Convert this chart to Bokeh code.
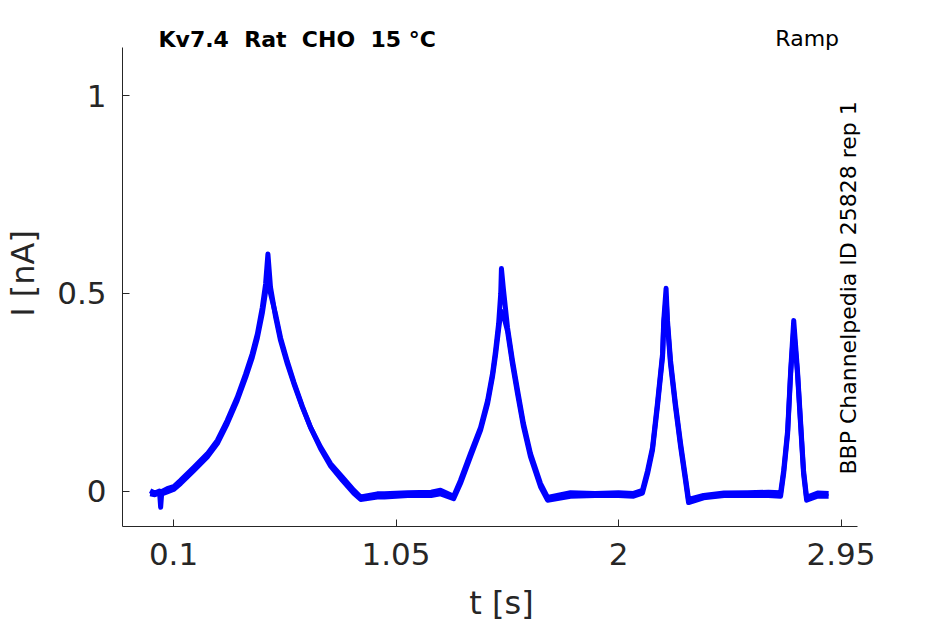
from bokeh.plotting import figure
from bokeh.models import Range1d, FixedTicker, Label
from bokeh.embed import file_html
from bokeh.resources import INLINE
import math

# ---- data ----
t_sweep = [0.000, 0.020, 0.040, 0.045, 0.050, 0.073, 0.100, 0.130, 0.187, 0.244,
           0.287, 0.329, 0.372, 0.408, 0.436, 0.458, 0.479, 0.493, 0.503, 0.514,
           0.536, 0.557, 0.586, 0.614, 0.650, 0.685, 0.728, 0.771, 0.821, 0.870,
           0.899, 0.970, 1.000,
           1.100, 1.200, 1.240, 1.296, 1.325, 1.368, 1.411, 1.441, 1.462, 1.475,
           1.488, 1.497, 1.500, 1.509, 1.526, 1.547, 1.569, 1.594, 1.624, 1.667,
           1.697, 1.795, 1.900, 2.000, 2.064, 2.102, 2.124, 2.145, 2.166, 2.188,
           2.193, 2.203, 2.209, 2.222, 2.243, 2.265, 2.286, 2.299, 2.363, 2.450,
           2.550, 2.640, 2.692, 2.705, 2.722, 2.735, 2.748, 2.764, 2.777, 2.790,
           2.803, 2.850, 2.897]
i_sweep1 = [0.002, -0.004, 0.001, -0.040, 0.000, 0.007, 0.012, 0.028, 0.061, 0.095,
            0.129, 0.179, 0.238, 0.297, 0.348, 0.398, 0.465, 0.524, 0.600, 0.516,
            0.440, 0.381, 0.322, 0.272, 0.213, 0.162, 0.112, 0.070, 0.036, 0.003,
            -0.014, -0.006, -0.006,
            -0.003, -0.002, 0.003, -0.012, 0.028, 0.096, 0.162, 0.230, 0.298, 0.356,
            0.424, 0.500, 0.563, 0.508, 0.414, 0.331, 0.255, 0.172, 0.096, 0.020,
            -0.015, -0.003, -0.005, -0.003, -0.005, 0.003, 0.053, 0.111, 0.222, 0.348,
            0.432, 0.513, 0.432, 0.331, 0.222, 0.121, 0.035, -0.020, -0.010, -0.004,
            -0.003, -0.002, -0.003, 0.053, 0.154, 0.306, 0.432, 0.306, 0.179, 0.053,
            -0.015, -0.004, -0.005]
i_sweep2 = [-0.006, -0.008, -0.004, -0.010, -0.006, -0.001, 0.005, 0.020, 0.053, 0.087,
            0.121, 0.171, 0.230, 0.288, 0.338, 0.388, 0.450, 0.505, 0.532, 0.500,
            0.447, 0.388, 0.328, 0.276, 0.215, 0.162, 0.108, 0.064, 0.028, -0.005,
            -0.020, -0.014, -0.014,
            -0.010, -0.010, -0.006, -0.018, 0.020, 0.088, 0.155, 0.222, 0.290, 0.345,
            0.410, 0.450, 0.455, 0.445, 0.405, 0.322, 0.246, 0.164, 0.088, 0.012,
            -0.022, -0.012, -0.010, -0.010, -0.012, -0.004, 0.045, 0.104, 0.214, 0.340,
            0.420, 0.490, 0.420, 0.322, 0.214, 0.113, 0.027, -0.028, -0.016, -0.010,
            -0.010, -0.010, -0.012, 0.045, 0.146, 0.298, 0.410, 0.298, 0.171, 0.045,
            -0.022, -0.012, -0.012]

x_ticks = [0.1, 1.05, 2.0, 2.95]
x_tick_labels = ["0.1", "1.05", "2", "2.95"]
y_ticks = [0.0, 0.5, 1.0]
y_tick_labels = ["0", "0.5", "1"]

NBSP2 = " \u00a0"  # double space that the SVG text keeps
title_text = NBSP2.join(["Kv7.4", "Rat", "CHO", "15 °C"])
protocol_text = "Ramp"
source_text = "BBP Channelpedia ID 25828 rep 1"

FONT = "DejaVu Sans"
AX = "#262626"

X_AXIS = (-0.1179, 3.0184)
Y_AXIS = (-0.0884, 1.1212)

p = figure(width=945, height=624, output_backend="svg", toolbar_location=None,
           x_range=Range1d(X_AXIS[0], 3.1185), y_range=Range1d(Y_AXIS[0], 1.1894),
           min_border_left=122, min_border_right=65, min_border_top=20,
           min_border_bottom=98)
p.outline_line_color = None
p.grid.visible = False
p.background_fill_color = "white"
p.border_fill_color = "white"

for ys in (i_sweep2, i_sweep1):
    p.line(t_sweep, ys, line_color="#0000FF", line_width=5, line_join="round")

for ax in (p.xaxis[0], p.yaxis[0]):
    ax.axis_line_color = AX
    ax.axis_line_width = 1
    ax.major_tick_line_color = AX
    ax.major_tick_in = 7
    ax.major_tick_out = 0
    ax.minor_tick_line_color = None
    ax.major_label_text_font = FONT
    ax.major_label_text_font_size = "31px"
    ax.major_label_text_color = AX
    ax.axis_label_text_font = FONT
    ax.axis_label_text_font_size = "32px"
    ax.axis_label_text_color = AX
    ax.axis_label_text_font_style = "normal"

p.xaxis.bounds = X_AXIS
p.yaxis.bounds = Y_AXIS
p.xaxis.ticker = FixedTicker(ticks=x_ticks)
p.xaxis.major_label_overrides = {v: s for v, s in zip(x_ticks, x_tick_labels)}
p.yaxis.ticker = FixedTicker(ticks=y_ticks)
p.yaxis.major_label_overrides = {v: s for v, s in zip(y_ticks, y_tick_labels)}
p.xaxis.axis_label = "t [s]"
p.yaxis.axis_label = "I [nA]"
p.xaxis.major_label_standoff = 16
p.xaxis.axis_label_standoff = 16
p.yaxis.major_label_standoff = 16
p.yaxis.axis_label_standoff = 12

p.add_layout(Label(x=0.0359, y=1.1414, text=title_text, text_font=FONT,
                   text_font_size="22px", text_font_style="bold",
                   text_color="black", text_baseline="middle",
                   text_align="left"))
p.add_layout(Label(x=2.9414, y=1.1439, text=protocol_text, text_font=FONT,
                   text_font_size="22px", text_color="black",
                   text_baseline="middle", text_align="right"))
p.add_layout(Label(x=2.9819, y=0.0429, text=source_text, text_font=FONT,
                   text_font_size="22px", text_color="black",
                   text_baseline="middle", text_align="left",
                   angle=math.pi / 2))

open("out.html", "w").write(file_html(p, INLINE))
